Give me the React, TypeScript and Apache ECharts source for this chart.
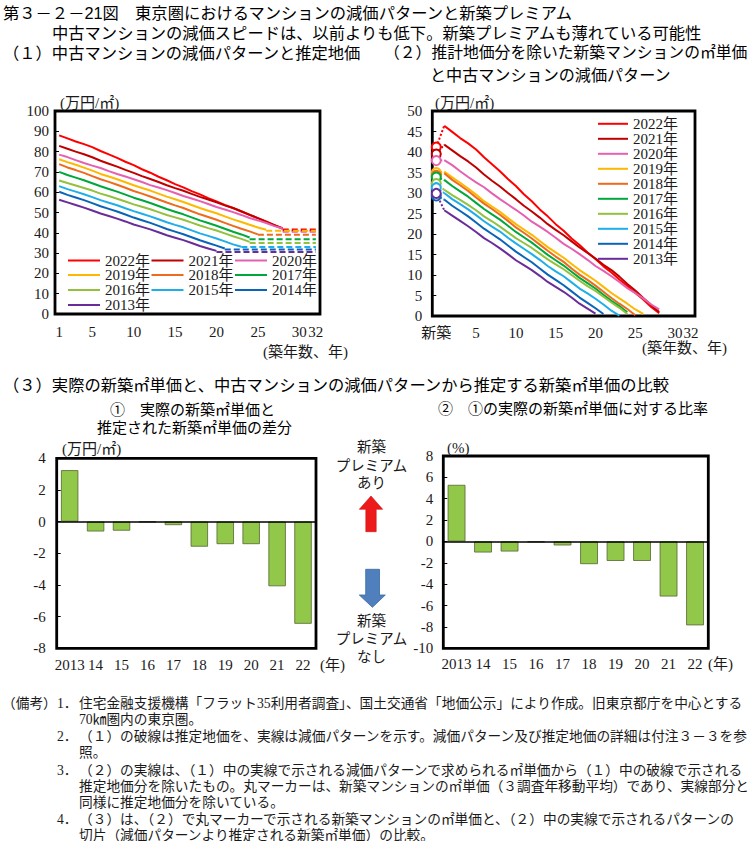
import React, { useEffect, useRef } from 'react';
import * as echarts from 'echarts';

const SERIF = '"Liberation Serif", "Noto Sans CJK JP", serif';
const GOTHIC = '"Liberation Sans", "Noto Sans CJK JP", sans-serif';
const TXT = '#1a1a1a';

// ---- data ----
const YEARS = ['2022年', '2021年', '2020年', '2019年', '2018年', '2017年', '2016年', '2015年', '2014年', '2013年'];
const COLORS = ['#FF0000', '#C00000', '#E660B0', '#FFB800', '#EE6A1C', '#00A83C', '#92C13E', '#20AEEA', '#0A64B8', '#6A2C98'];

const AGES1 = ['1', '2', '3', '4', '5', '6', '7', '8', '9', '10', '11', '12', '13', '14', '15', '16', '17', '18', '19', '20', '21', '22', '23', '24', '25', '26', '27', '28', '29', '30', '31', '32'];
const AGES2 = ['新築', '1', '2', '3', '4', '5', '6', '7', '8', '9', '10', '11', '12', '13', '14', '15', '16', '17', '18', '19', '20', '21', '22', '23', '24', '25', '26', '27', '28', '29', '30', '31', '32'];
const X_TICKS_1 = ['1', '5', '10', '15', '20', '25', '30', '32'];
const X_TICKS_2 = ['新築', '5', '10', '15', '20', '25', '30', '32'];

// (1) depreciation pattern (万円/㎡), age 1 onward
const P2022 = [88.0, 86.5, 85.0, 83.7, 82.2, 80.3, 78.6, 76.9, 75.0, 73.3, 71.3, 69.6, 67.6, 65.9, 64.0, 62.4, 60.5, 58.9, 57.1, 55.5, 53.7, 52.2, 50.5, 48.9, 47.2, 45.6, 43.8, 42.3];
const P2021 = [82.8, 81.4, 80.0, 78.7, 77.2, 75.5, 74.0, 72.6, 71.0, 69.5, 67.9, 66.5, 65.0, 63.4, 62.0, 60.7, 59.2, 57.7, 56.4, 55.0, 53.5, 52.2, 50.6, 48.8, 47.2, 45.4, 43.7, 42.0];
const P2020 = [78.5, 77.3, 75.8, 74.4, 73.1, 71.9, 70.4, 69.0, 67.7, 66.4, 65.0, 63.5, 62.3, 61.0, 59.6, 58.1, 56.9, 55.6, 54.2, 52.7, 51.5, 50.2, 48.8, 47.3, 46.1, 44.8, 43.3, 42.1];
const P2019 = [76.2, 74.8, 73.5, 72.1, 70.6, 69.0, 67.7, 66.4, 64.9, 63.4, 62.1, 60.8, 59.3, 57.8, 56.5, 55.2, 53.7, 52.2, 50.9, 49.6, 48.1, 46.6, 45.3, 44.0, 42.6, 41.5];
const P2018 = [73.8, 72.2, 70.9, 69.5, 67.9, 66.4, 65.1, 63.7, 62.2, 60.6, 59.3, 57.9, 56.4, 54.9, 53.5, 52.2, 50.6, 49.1, 47.8, 46.4, 44.9, 43.4, 42.0, 40.7, 39.2];
const P2017 = [70.0, 68.5, 67.2, 65.9, 64.4, 62.9, 61.6, 60.3, 58.8, 57.3, 56.0, 54.7, 53.2, 51.7, 50.4, 49.1, 47.6, 46.1, 44.8, 43.5, 42.0, 40.5, 39.2, 37.7];
const P2016 = [65.8, 64.5, 63.3, 62.1, 60.8, 59.3, 58.1, 56.8, 55.4, 54.0, 52.8, 51.6, 50.2, 48.8, 47.6, 46.4, 45.0, 43.6, 42.3, 41.1, 39.7, 38.3, 37.0, 35.5];
const P2015 = [63.0, 61.5, 60.3, 59.0, 57.6, 56.1, 54.8, 53.6, 52.1, 50.7, 49.4, 48.1, 46.7, 45.2, 43.9, 42.7, 41.2, 39.7, 38.5, 37.2, 35.8, 34.3, 33.1];
const P2014 = [60.2, 58.7, 57.4, 56.1, 54.6, 53.1, 51.8, 50.5, 49.0, 47.5, 46.2, 44.9, 43.4, 41.9, 40.6, 39.3, 37.8, 36.3, 35.0, 33.7, 32.3];
const P2013 = [56.3, 55.0, 53.7, 52.4, 51.0, 49.5, 48.3, 47.0, 45.6, 44.1, 42.9, 41.7, 40.3, 38.8, 37.6, 36.4, 35.0, 33.5, 32.3, 31.1];
const PATTERNS = [P2022, P2021, P2020, P2019, P2018, P2017, P2016, P2015, P2014, P2013];

// estimated land price (dashed), per year
const LAND = [41.6, 41.0, 40.5, 41.0, 39.0, 36.8, 35.0, 33.0, 31.8, 30.5];
// new-build ㎡ price net of land (circle markers)
const NEW_BUILD = [41.2, 39.5, 37.9, 35.0, 34.3, 33.9, 32.3, 31.3, 29.3, 29.9];

// (3)
const BAR_YEARS = ['2013', '14', '15', '16', '17', '18', '19', '20', '21', '22'];
const DIFF = [3.25, -0.62, -0.57, -0.03, -0.22, -1.58, -1.42, -1.42, -4.08, -6.45];
const RATIO = [5.3, -1.03, -0.94, -0.06, -0.37, -2.12, -1.82, -1.82, -5.15, -7.85];

const r1 = (v: number) => Math.round(v * 10) / 10;

function txt(text: string, x: number, y: number, size: number, family: string, align = 'left', fill = TXT) {
  return {
    type: 'text', x, y, silent: true,
    style: { text, fontSize: size, fontFamily: family, fill, textAlign: align, textVerticalAlign: 'middle' },
  };
}

function buildOption() {
  const series: any[] = [];
  // chart (1)
  PATTERNS.forEach((p, k) => {
    const c = COLORS[k];
    const E = p.length;
    series.push({
      type: 'line', name: YEARS[k], xAxisIndex: 0, yAxisIndex: 0,
      data: AGES1.map((_, i) => (i < E ? p[i] : null)),
      symbol: 'none', lineStyle: { color: c, width: 2 }, itemStyle: { color: c }, z: 3,
    });
  });
  PATTERNS.forEach((p, k) => {
    const c = COLORS[k];
    const E = p.length;
    series.push({
      type: 'line', name: YEARS[k], xAxisIndex: 0, yAxisIndex: 0,
      data: AGES1.map((_, i) => (i >= E - 1 ? LAND[k] : null)),
      symbol: 'none', lineStyle: { color: c, width: 2, type: [6, 3] }, itemStyle: { color: c }, z: 2,
    });
  });
  // chart (2)
  PATTERNS.forEach((p, k) => {
    const c = COLORS[k];
    const E = p.length;
    series.push({
      type: 'line', name: YEARS[k], xAxisIndex: 1, yAxisIndex: 1,
      data: AGES2.map((_, i) => (i >= 1 && i <= E ? r1(p[i - 1] - LAND[k]) : null)),
      symbol: 'none', lineStyle: { color: c, width: 2 }, itemStyle: { color: c }, z: 3,
    });
    series.push({
      type: 'line', name: YEARS[k], xAxisIndex: 1, yAxisIndex: 1,
      data: [{ value: NEW_BUILD[k] }, { value: r1(p[0] - LAND[k]), symbol: 'none' }],
      symbol: 'emptyCircle', symbolSize: 9, showSymbol: true,
      lineStyle: { color: c, width: 2, type: 'dotted' }, itemStyle: { color: c, borderWidth: 1.3 }, z: 4,
    });
  });
  const zeroLine = {
    silent: true, symbol: 'none', label: { show: false },
    lineStyle: { color: '#000', width: 1.5, type: 'solid' }, data: [{ yAxis: 0 }],
  };
  const barStyle = { color: '#92C84A', borderColor: '#55652f', borderWidth: 0.8 };
  series.push({ type: 'bar', name: 'diff', xAxisIndex: 2, yAxisIndex: 2, data: DIFF, barWidth: '67%', itemStyle: barStyle, markLine: zeroLine });
  series.push({ type: 'bar', name: 'ratio', xAxisIndex: 3, yAxisIndex: 3, data: RATIO, barWidth: '67%', itemStyle: barStyle, markLine: zeroLine });

  const lab = { fontSize: 15, fontFamily: SERIF, color: TXT };
  const gridBase = { show: true, borderColor: '#000', borderWidth: 2.8, backgroundColor: 'transparent', containLabel: false };
  const yBase = {
    type: 'value', axisLine: { show: false }, splitLine: { show: false },
    axisTick: { show: true, inside: true, length: 4, lineStyle: { color: '#000' } },
  };
  const xBase = { type: 'category', boundaryGap: true, axisLine: { show: false }, axisTick: { show: false } };

  const legendBase: any = {
    icon: 'rect', itemWidth: 32, itemHeight: 2, itemGap: 1.5, padding: 0, selectedMode: false,
    orient: 'horizontal', textStyle: { fontSize: 15, fontFamily: SERIF, color: TXT, lineHeight: 16 },
  };

  const graphic: any[] = [
    txt('第３－２－21図　東京圏におけるマンションの減価パターンと新築プレミアム', 3, 13, 16.3, GOTHIC, 'left', '#000'),
    txt('中古マンションの減価スピードは、以前よりも低下。新築プレミアムも薄れている可能性', 52, 33, 16.3, GOTHIC, 'left', '#000'),
    txt('（１）中古マンションの減価パターンと推定地価', 3, 52.7, 16.3, GOTHIC, 'left', '#000'),
    txt('（２）推計地価分を除いた新築マンションの㎡単価', 384, 52.7, 15.8, GOTHIC, 'left', '#000'),
    txt('と中古マンションの減価パターン', 430, 74.5, 16.1, GOTHIC, 'left', '#000'),
    txt('(万円/㎡)', 60, 103, 15, SERIF),
    txt('(築年数、年)', 263, 352, 15, SERIF),
    txt('(万円/㎡)', 435, 103, 15, SERIF),
    txt('(築年数、年)', 642, 348, 15, SERIF),
    txt('（３）実際の新築㎡単価と、中古マンションの減価パターンから推定する新築㎡単価の比較', 3, 385, 16.3, GOTHIC, 'left', '#000'),
    txt('①　実際の新築㎡単価と', 110, 409, 15, GOTHIC, 'left', '#000'),
    txt('推定された新築㎡単価の差分', 97, 427.5, 15, GOTHIC, 'left', '#000'),
    txt('②　①の実際の新築㎡単価に対する比率', 438, 408, 15, GOTHIC, 'left', '#000'),
    txt('(万円/㎡)', 62, 449, 15, SERIF),
    txt('(%)', 447, 448, 15, SERIF),
    txt('(年)', 320, 665, 15, SERIF),
    txt('(年)', 708, 664, 15, SERIF),
    txt('新築', 371.5, 447, 14.5, SERIF, 'center'),
    txt('プレミアム', 371.5, 466, 14.5, SERIF, 'center'),
    txt('あり', 371.5, 483, 14.5, SERIF, 'center'),
    txt('新築', 371.5, 621, 14.5, SERIF, 'center'),
    txt('プレミアム', 371.5, 639, 14.5, SERIF, 'center'),
    txt('なし', 371.5, 657, 14.5, SERIF, 'center'),
    {
      type: 'polygon', silent: true,
      shape: { points: [[371, 496], [382.7, 509.3], [376.2, 509.3], [376.2, 531.7], [365.8, 531.7], [365.8, 509.3], [359.3, 509.3]] },
      style: { fill: '#EC1A1A', stroke: '#D01010', lineWidth: 0.6 },
    },
    {
      type: 'polygon', silent: true,
      shape: { points: [[365.7, 569.3], [379.5, 569.3], [379.5, 595], [385.3, 595], [372.4, 607.3], [359.3, 595], [365.7, 595]] },
      style: { fill: '#4F7FBC', stroke: '#3A679E', lineWidth: 0.8 },
    },
    // notes
    txt('（備考）', 2, 703, 13.7, SERIF),
    txt('1．', 57, 703, 13.7, SERIF),
    txt('住宅金融支援機構「フラット35利用者調査」、国土交通省「地価公示」により作成。旧東京都庁を中心とする', 79, 703, 13.7, SERIF),
    txt('70㎞圏内の東京圏。', 79, 719, 13.7, SERIF),
    txt('2．', 57, 736.5, 13.7, SERIF),
    txt('（１）の破線は推定地価を、実線は減価パターンを示す。減価パターン及び推定地価の詳細は付注３－３を参', 79, 736.5, 13.7, SERIF),
    txt('照。', 79, 752.5, 13.7, SERIF),
    txt('3．', 57, 770, 13.7, SERIF),
    txt('（２）の実線は、（１）中の実線で示される減価パターンで求められる㎡単価から（１）中の破線で示される', 79, 770, 13.7, SERIF),
    txt('推定地価分を除いたもの。丸マーカーは、新築マンションの㎡単価（３調査年移動平均）であり、実線部分と', 79, 786, 13.7, SERIF),
    txt('同様に推定地価分を除いている。', 79, 802, 13.7, SERIF),
    txt('4．', 57, 819.5, 13.7, SERIF),
    txt('（３）は、（２）で丸マーカーで示される新築マンションの㎡単価と、（２）中の実線で示されるパターンの', 79, 819.5, 13.7, SERIF),
    txt('切片（減価パターンより推定される新築㎡単価）の比較。', 79, 835, 13.7, SERIF),
  ];

  return {
    animation: false,
    backgroundColor: '#ffffff',
    grid: [
      { ...gridBase, left: 55, top: 111, width: 265, height: 203 },
      { ...gridBase, left: 432.3, top: 111, width: 262.7, height: 205 },
      { ...gridBase, left: 56.7, top: 458.3, width: 259.3, height: 190 },
      { ...gridBase, left: 443.3, top: 456, width: 265, height: 192.3 },
    ],
    xAxis: [
      { ...xBase, gridIndex: 0, data: AGES1, axisLabel: { ...lab, margin: 10, interval: (_i: number, v: string) => X_TICKS_1.includes(v) } },
      { ...xBase, gridIndex: 1, data: AGES2, axisLabel: { ...lab, margin: 9, interval: (_i: number, v: string) => X_TICKS_2.includes(v) } },
      { ...xBase, gridIndex: 2, data: BAR_YEARS, axisLabel: { ...lab, margin: 9, interval: 0 } },
      { ...xBase, gridIndex: 3, data: BAR_YEARS, axisLabel: { ...lab, margin: 8, interval: 0 } },
    ],
    yAxis: [
      { ...yBase, gridIndex: 0, min: 0, max: 100, interval: 10, axisLabel: { ...lab, margin: 6 } },
      { ...yBase, gridIndex: 1, min: 0, max: 50, interval: 5, axisLabel: { ...lab, margin: 10 } },
      { ...yBase, gridIndex: 2, min: -8, max: 4, interval: 2, axisLabel: { ...lab, margin: 11 } },
      { ...yBase, gridIndex: 3, min: -10, max: 8, interval: 2, axisLabel: { ...lab, margin: 10 } },
    ],
    legend: [
      { ...legendBase, left: 68, top: 252.5, data: ['2022年', '2021年', '2020年'] },
      { ...legendBase, left: 68, top: 267, data: ['2019年', '2018年', '2017年'] },
      { ...legendBase, left: 68, top: 282, data: ['2016年', '2015年', '2014年'] },
      { ...legendBase, left: 68, top: 297, data: ['2013年'] },
      {
        ...legendBase, orient: 'vertical', left: 598, top: 116.3, itemWidth: 30, itemGap: 0,
        textStyle: { fontSize: 15, fontFamily: SERIF, color: TXT, lineHeight: 14 }, data: YEARS,
      },
    ],
    series,
    graphic,
  };
}

export default function App() {
  const ref = useRef<HTMLDivElement>(null);
  useEffect(() => {
    if (!ref.current) return;
    const chart = echarts.init(ref.current, undefined, { renderer: 'svg' });
    chart.setOption(buildOption() as any);
    return () => chart.dispose();
  }, []);
  return (
    <div
      ref={ref}
      style={{ position: 'absolute', left: 0, top: 0, width: 753, height: 841, background: '#fff' }}
    />
  );
}
